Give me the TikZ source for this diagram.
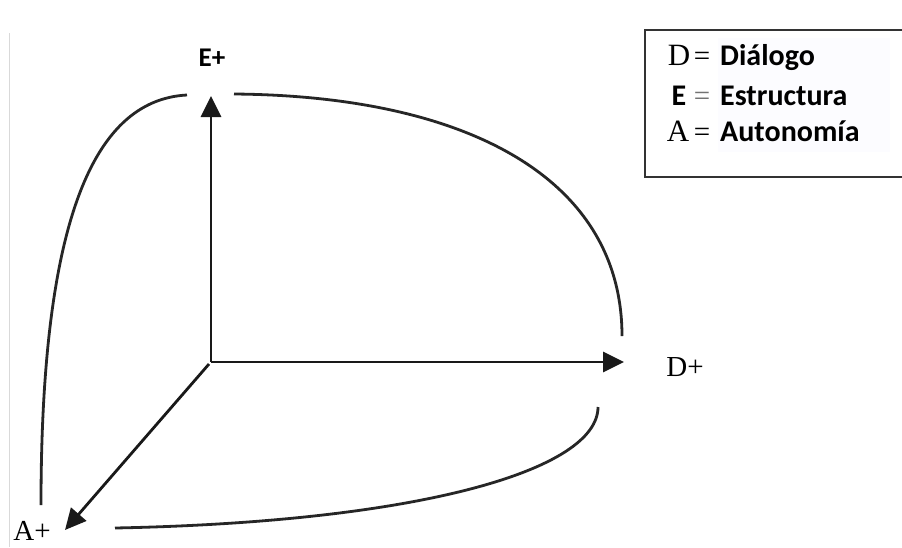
\documentclass[tikz,border=0pt]{standalone}
\usepackage{fontspec}
\setmainfont{Liberation Serif}
\newfontfamily\legsans{Carlito}
\usetikzlibrary{arrows.meta}
\begin{document}
\begin{tikzpicture}[x=1pt,y=-1pt,
  axis/.style={line width=2.8pt,draw=black!90,-{Triangle[length=21pt,width=20pt]}},
  arc/.style={line width=2.8pt,draw=black!85},
  sanslbl/.style={font=\legsans\bfseries\fontsize{27}{29}\selectfont,inner sep=0pt},
  seriflbl/.style={font=\fontsize{29}{31}\selectfont,inner sep=0pt},
  legtxt/.style={font=\legsans\bfseries\fontsize{30}{32}\selectfont,inner sep=0pt,anchor=base west},
  legsym/.style={font=\fontsize{31}{33}\selectfont,inner sep=0pt,anchor=base},
  legeq/.style={font=\fontsize{29}{31}\selectfont,inner sep=0pt,anchor=base}]
\useasboundingbox (0,0) rectangle (902,547);
\fill[white] (0,0) rectangle (902,547);
% faint page edge
\draw[black!15,line width=0.8pt] (9,33) -- (9,547);
% axes
\coordinate (O) at (211,362);
\coordinate (Etip) at (211,96);
\coordinate (Dtip) at (624,362);
\coordinate (Atip) at (65,530);
\draw[axis] (O) -- (Etip);
\draw[axis] (O) -- (Dtip);
\draw[axis] (209,364) -- (Atip);
% curves
\coordinate (c1a) at (41,505);
\coordinate (c1b) at (187,95);
\coordinate (c2a) at (234,94);
\coordinate (c2b) at (622,336);
\coordinate (c3a) at (598,407);
\coordinate (c3b) at (115,528);
\draw[arc] (c1a) .. controls (41,230) and (90,100) .. (c1b);
\draw[arc] (c2a) .. controls (470,96) and (622,180) .. (c2b);
\draw[arc] (c3a) .. controls (598,470) and (420,522) .. (c3b);
% labels
\node[sanslbl] (E) at (212,58) {E+};
\node[seriflbl] (D) at (685,367) {D+};
\node[seriflbl] (A) at (32,531) {A+};
% legend
\fill[blue!1] (718,38) rectangle (890,152);
\draw[black!80,line width=2.6pt] (910,30) -- (645,30) -- (645,177) -- (910,177);
\node[legsym] (sD) at (679,65) {D};
\node[legeq] (eD) at (702,65) {=};
\node[legtxt] (tD) at (720,65) {Diálogo};
\node[legsym,font=\legsans\bfseries\fontsize{30}{32}\selectfont] (sE) at (679,105) {E};
\node[legeq,text=black!55] (eE) at (702,105) {=};
\node[legtxt] (tE) at (720,105) {Estructura};
\node[legsym] (sA) at (678,141) {A};
\node[legeq] (eA) at (702,141) {=};
\node[legtxt] (tA) at (720,141) {Autonomía};
\end{tikzpicture}
\end{document}
